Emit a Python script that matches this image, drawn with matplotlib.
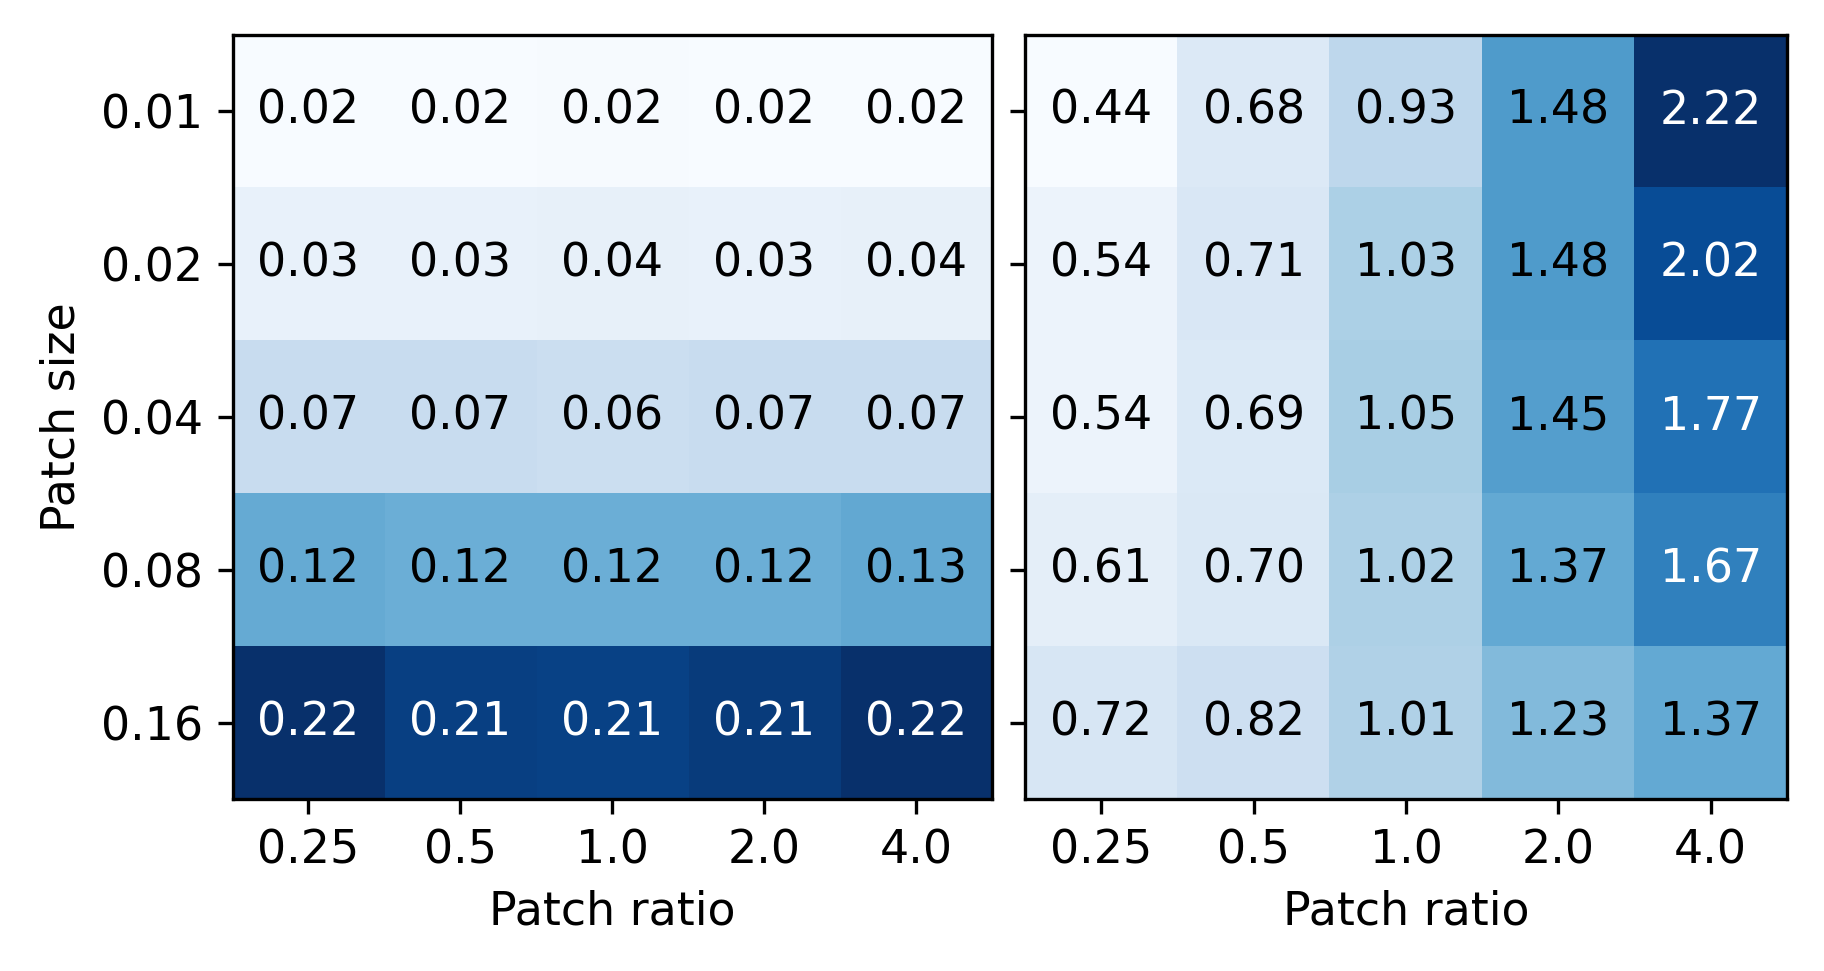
import numpy as np
import matplotlib
matplotlib.use("Agg")
import matplotlib.pyplot as plt

# axis labels
patch_sizes = ["0.01", "0.02", "0.04", "0.08", "0.16"]
patch_ratios = ["0.25", "0.5", "1.0", "2.0", "4.0"]

# left panel values (rows = patch size, cols = patch ratio), estimated unrounded
left_vals = [
    [0.019, 0.019, 0.020, 0.019, 0.019],
    [0.034, 0.034, 0.035, 0.034, 0.035],
    [0.067, 0.067, 0.064, 0.067, 0.068],
    [0.124, 0.120, 0.120, 0.120, 0.126],
    [0.222, 0.210, 0.208, 0.213, 0.222],
]
# right panel values
right_vals = [
    [0.44, 0.68, 0.93, 1.48, 2.22],
    [0.54, 0.71, 1.03, 1.48, 2.02],
    [0.54, 0.69, 1.05, 1.45, 1.77],
    [0.61, 0.70, 1.02, 1.37, 1.67],
    [0.72, 0.82, 1.01, 1.23, 1.37],
]

plt.rcParams["font.size"] = 11

fig = plt.figure(figsize=(6.08, 3.2367), dpi=300)
ax1 = fig.add_axes([0.1275, 0.177, 0.4162, 0.787])
ax2 = fig.add_axes([0.5621, 0.177, 0.4175, 0.787])


def draw(ax, vals, show_y):
    data = np.array(vals)
    im = ax.imshow(data, cmap="Blues", aspect="auto")
    lo, hi = data.min(), data.max()
    for i in range(data.shape[0]):
        for j in range(data.shape[1]):
            v = data[i, j]
            c = "white" if (v - lo) / (hi - lo) > 0.65 else "black"
            ax.text(j, i, f"{v:.2f}", ha="center", va="center", color=c)
    ax.set_xticks(range(len(patch_ratios)))
    ax.set_xticklabels(patch_ratios)
    ax.set_yticks(range(len(patch_sizes)))
    if show_y:
        ax.set_yticklabels(patch_sizes)
        ax.set_ylabel("Patch size")
    else:
        ax.set_yticklabels([])
    ax.set_xlabel("Patch ratio")
    return im


draw(ax1, left_vals, True)
draw(ax2, right_vals, False)

fig.savefig("out.png", dpi=300)
